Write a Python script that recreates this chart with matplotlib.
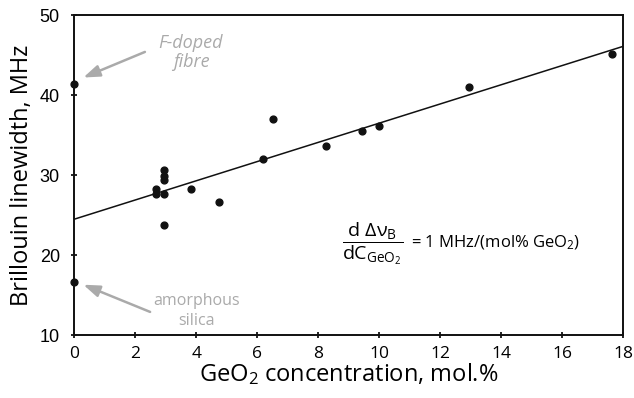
import numpy as np
import matplotlib.pyplot as plt

plt.rcParams['font.family'] = 'Open Sans'
plt.rcParams['mathtext.fontset'] = 'custom'
plt.rcParams['mathtext.rm'] = 'Open Sans'
plt.rcParams['mathtext.it'] = 'Open Sans'
plt.rcParams['mathtext.bf'] = 'Open Sans'

# GeO2 concentration (mol.%) and Brillouin linewidth (MHz)
geo2 = [0.0, 0.0, 2.66, 2.66, 2.94, 2.94, 2.94, 2.94, 2.94, 3.83,
        4.73, 6.18, 6.52, 8.24, 9.42, 9.99, 12.94, 17.63]
linewidth = [41.4, 16.6, 28.3, 27.7, 30.6, 29.9, 29.4, 27.7, 23.8, 28.3,
             26.7, 32.0, 37.0, 33.6, 35.5, 36.2, 41.0, 45.2]

# linear fit drawn on the figure
fit_x = [0, 18]
fit_y = [24.5, 46.1]

GREY = '#aaaaaa'

fig = plt.figure(figsize=(6.34, 3.98), dpi=100)
ax = fig.add_axes([0.1175, 0.158, 0.8655, 0.804])

ax.plot(fit_x, fit_y, color='#111111', linewidth=1.1, zorder=2)
ax.scatter(geo2, linewidth, s=24, color='#111111', zorder=3, clip_on=False)

ax.set_xlim(0, 18)
ax.set_ylim(10, 50)
ax.set_xticks(np.arange(0, 19, 2))
ax.set_yticks([10, 20, 30, 40, 50])
ax.tick_params(direction='inout', length=5, width=1.2)
ax.tick_params(axis='x', labelsize=12.5, pad=5)
ax.tick_params(axis='y', pad=8)
for lab in ax.get_yticklabels():
    lab.set_fontfamily('Liberation Sans')
    lab.set_fontsize(13)
for s in ax.spines.values():
    s.set_linewidth(1.4)
    s.set_color('#111111')

ax.set_xlabel('GeO$_2$ concentration, mol.%', fontsize=17, labelpad=0)
ax.set_ylabel('Brillouin linewidth, MHz', fontsize=17, labelpad=4)

# annotations
arrow = dict(arrowstyle='-|>,head_length=0.7,head_width=0.25', color=GREY,
             lw=1.8, mutation_scale=14, shrinkA=0, shrinkB=0)
ax.annotate('', xy=(0.29, 42.2), xytext=(2.31, 45.4), arrowprops=arrow)
ax.text(3.82, 45.3, 'F-doped\nfibre', color=GREY, fontsize=13, style='italic',
        ha='center', va='center', linespacing=1.05)

ax.annotate('', xy=(0.29, 16.3), xytext=(2.48, 12.9), arrowprops=arrow)
ax.text(4.0, 13.0, 'amorphous\nsilica', color=GREY, fontsize=11.5,
        ha='center', va='center', linespacing=1.3)

ax.text(9.78, 21.4, r'$\dfrac{\mathrm{d}\ \Delta\nu_\mathrm{B}}{\mathrm{dC}_{\mathrm{GeO}_2}}$',
        fontsize=14, ha='center', va='center')
ax.text(11.05, 21.6, '= 1 MHz/(mol% GeO$_2$)', fontsize=12, ha='left', va='center')

fig.savefig('out.png', dpi=100)
